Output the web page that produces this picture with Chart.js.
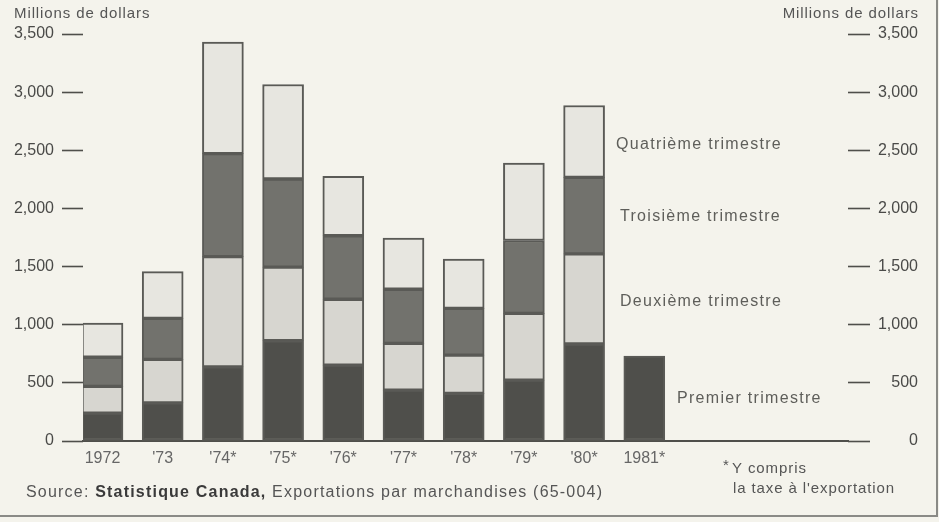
<!DOCTYPE html>
<html>
<head>
<meta charset="utf-8">
<script src="https://cdn.jsdelivr.net/npm/chart.js@4.4.1/dist/chart.umd.min.js"></script>
<style>
  html, body { margin: 0; padding: 0; background: #f4f3ec; }
  #wrap { position: relative; width: 939px; height: 522px; }
</style>
</head>
<body>
<div id="wrap"><canvas id="myChart"></canvas></div>
<script>
// years on the x axis and their printed labels
const years = [1972, 1973, 1974, 1975, 1976, 1977, 1978, 1979, 1980, 1981];
const yearLabels = ['1972', "'73", "'74*", "'75*", "'76*", "'77*", "'78*", "'79*", "'80*", '1981*'];

// quarterly exports, millions of dollars
const q1 = [240, 328, 638, 862, 652, 437, 409, 523, 834, 730];
const q2 = [230, 374, 948, 633, 567, 403, 330, 575, 775, null];
const q3 = [250, 353, 885, 758, 546, 465, 402, 626, 658, null];
const q4 = [295, 402, 960, 813, 511, 440, 423, 667, 618, null];

const quarterNames = ['Premier trimestre', 'Deuxième trimestre', 'Troisième trimestre', 'Quatrième trimestre'];
const yTicks = [0, 500, 1000, 1500, 2000, 2500, 3000, 3500];

const fontFamily = '"Liberation Sans", Arial, Helvetica, sans-serif';
const inkColor = '#4a4a48';

function fmt(v) {
    return v.toLocaleString('en-US');
}

// texts around the plot: axis titles, quarter labels, source and footnote
const annotations = {
    id: 'annotations',
    afterDraw(chart) {
        const ctx = chart.ctx;
        const y = chart.scales.y;
        ctx.save();
        ctx.fillStyle = '#555';
        ctx.textBaseline = 'middle';

        ctx.font = '15px ' + fontFamily;
        ctx.letterSpacing = '0.9px';
        ctx.textAlign = 'left';
        ctx.fillText('Millions de dollars', 14, 14);
        ctx.textAlign = 'right';
        ctx.fillText('Millions de dollars', 919, 14);

        // quarter labels, placed at the level of each band
        ctx.font = '16px ' + fontFamily;
        ctx.letterSpacing = '1.3px';
        ctx.textAlign = 'left';
        ctx.fillStyle = '#5e5e5a';
        ctx.fillText(quarterNames[3], 616, y.getPixelForValue(2550));
        ctx.fillText(quarterNames[2], 620, y.getPixelForValue(1930));
        ctx.fillText(quarterNames[1], 620, y.getPixelForValue(1195));
        ctx.fillText(quarterNames[0], 677, y.getPixelForValue(368));

        // source line
        ctx.letterSpacing = '1.2px';
        let x = 26;
        const parts = [['Source: ', false], ['Statistique Canada,', true], [' Exportations par marchandises (65-004)', false]];
        parts.forEach(function(p) {
            ctx.font = (p[1] ? 'bold ' : '') + '16px ' + fontFamily;
            ctx.fillStyle = p[1] ? '#3a3a3a' : '#555';
            ctx.fillText(p[0], x, 493);
            x += ctx.measureText(p[0]).width;
        });

        // footnote
        ctx.font = '15px ' + fontFamily;
        ctx.letterSpacing = '0.9px';
        ctx.fillStyle = '#555';
        ctx.fillText('*', 723, 466);
        ctx.fillText('Y compris', 732, 469);
        ctx.fillText("la taxe à l'exportation", 733, 489);

        // frame on the right and bottom
        ctx.strokeStyle = '#8a8a86';
        ctx.lineWidth = 2;
        ctx.beginPath();
        ctx.moveTo(937, 0);
        ctx.lineTo(937, 516);
        ctx.lineTo(0, 516);
        ctx.stroke();
        ctx.restore();
    }
};

const canvas = document.getElementById('myChart');
const ctx = canvas.getContext('2d');

const barStyle = {
    borderColor: '#5a5a56',
    borderWidth: 2,
    borderSkipped: false,
    barThickness: 41
};

const chart = new Chart(ctx, {
    type: 'bar',
    data: {
        labels: years,
        datasets: [
            Object.assign({ label: quarterNames[0], data: q1, backgroundColor: '#4f4f4b' }, barStyle),
            Object.assign({ label: quarterNames[1], data: q2, backgroundColor: '#d7d6d0' }, barStyle),
            Object.assign({ label: quarterNames[2], data: q3, backgroundColor: '#72726d' }, barStyle),
            Object.assign({ label: quarterNames[3], data: q4, backgroundColor: '#e7e6e0' }, barStyle)
        ]
    },
    options: {
        responsive: true,
        maintainAspectRatio: false,
        animation: false,
        layout: { padding: { top: 34, left: 0, right: 21, bottom: 0 } },
        plugins: {
            legend: { display: false },
            tooltip: { enabled: false }
        },
        scales: {
            x: {
                type: 'linear',
                stacked: true,
                offset: false,
                min: 1971.676,
                max: 1984.384,
                afterBuildTicks: function(scale) {
                    scale.ticks = years.map(v => ({ value: v }));
                },
                afterFit: function(scale) { scale.height = 81; },
                grid: { display: false },
                border: { display: true, color: '#4f4f4b', width: 2 },
                ticks: {
                    padding: 0,
                    color: '#666',
                    font: { family: fontFamily, size: 16 },
                    callback: function(v) {
                        const i = years.indexOf(v);
                        return i >= 0 ? yearLabels[i] : '';
                    }
                }
            },
            y: {
                stacked: true,
                min: 0,
                max: 3500,
                afterBuildTicks: function(scale) {
                    scale.ticks = yTicks.map(v => ({ value: v }));
                },
                afterFit: function(scale) { scale.width = 83; },
                border: { display: false },
                grid: {
                    drawOnChartArea: false,
                    tickLength: 21,
                    tickColor: '#4f4f4b',
                    tickWidth: 1.6
                },
                ticks: {
                    padding: 8,
                    color: inkColor,
                    font: { family: fontFamily, size: 16 },
                    callback: v => fmt(v)
                }
            },
            y2: {
                position: 'right',
                min: 0,
                max: 3500,
                afterBuildTicks: function(scale) {
                    scale.ticks = yTicks.map(v => ({ value: v }));
                },
                afterFit: function(scale) { scale.width = 70; },
                border: { display: false },
                grid: {
                    drawOnChartArea: false,
                    tickLength: 22,
                    tickColor: '#4f4f4b',
                    tickWidth: 1.6
                },
                ticks: {
                    padding: 4,
                    crossAlign: 'far',
                    color: inkColor,
                    font: { family: fontFamily, size: 16 },
                    callback: v => fmt(v)
                }
            }
        }
    },
    plugins: [annotations]
});
</script>
</body>
</html>
